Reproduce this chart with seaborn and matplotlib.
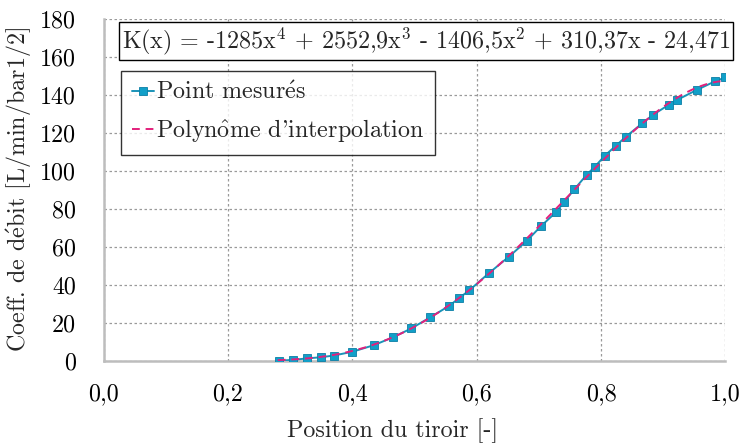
import numpy as np
import pandas as pd
import matplotlib
matplotlib.use("Agg")
import matplotlib.pyplot as plt
import seaborn as sns

# ---- data ----
x_mes = [0.282, 0.304, 0.327, 0.349, 0.370, 0.400, 0.434, 0.466, 0.495, 0.525,
         0.556, 0.571, 0.588, 0.619, 0.652, 0.681, 0.703, 0.728, 0.741, 0.757,
         0.777, 0.790, 0.806, 0.824, 0.840, 0.866, 0.884, 0.909, 0.922, 0.954,
         0.983, 1.000]
k_mes = [0.0, 0.4, 1.2, 1.8, 2.7, 4.7, 8.1, 12.4, 17.0, 22.8,
         28.9, 32.8, 37.0, 45.9, 54.8, 63.2, 70.7, 78.3, 83.7, 90.2,
         97.9, 102.1, 107.9, 113.2, 117.9, 124.9, 129.5, 134.7, 137.2, 142.5,
         147.0, 149.1]
poly_coefs = [-1285.0, 2552.9, -1406.5, 310.37, -24.471]  # x^4 .. x^0
poly_range = [0.28, 1.0]
x_ticks = [0.0, 0.2, 0.4, 0.6, 0.8, 1.0]
x_tick_labels = ["0,0", "0,2", "0,4", "0,6", "0,8", "1,0"]
y_ticks = [0, 20, 40, 60, 80, 100, 120, 140, 160, 180]
equation = r"K(x) = -1285x$^{4}$ + 2552,9x$^{3}$ - 1406,5x$^{2}$ + 310,37x - 24,471"
label_mes = r"Point mesur$\mathrm{\acute{e}}$s"
label_poly = r"Polyn$\mathrm{\hat{o}}$me d'interpolation"
x_label = "Position du tiroir [-]"
y_label = r"Coeff. de d$\mathrm{\acute{e}}$bit [L/min/bar1/2]"

# ---- style ----
sns.set_style("whitegrid")
plt.rcParams["font.family"] = ["cmr10", "DejaVu Serif"]
plt.rcParams["mathtext.fontset"] = "cm"
plt.rcParams["axes.unicode_minus"] = False

FS = 17.3
col_mes = "#1a93b8"
col_mark = "#129fc8"
col_poly = "#e3207c"

fig = plt.figure(figsize=(7.4, 4.46), dpi=100)
ax = fig.add_axes([0.1401, 0.1913, 0.8402, 0.7668])

df_mes = pd.DataFrame({"x": x_mes, "k": k_mes})
xp = np.linspace(poly_range[0], poly_range[1], 300)
df_poly = pd.DataFrame({"x": xp, "k": np.polyval(poly_coefs, xp)})

sns.lineplot(data=df_mes, x="x", y="k", ax=ax, color=col_mes, lw=1.4,
             marker="s", markersize=5.2, markerfacecolor=col_mark,
             markeredgecolor="#0b7fa6", markeredgewidth=0.6,
             label=label_mes, zorder=3)
sns.lineplot(data=df_poly, x="x", y="k", ax=ax, color=col_poly, lw=1.4,
             linestyle=(0, (4, 3)), label=label_poly, zorder=4)

ax.set_xlim(0, 1.0)
ax.set_ylim(0, 180)
ax.set_xticks(x_ticks)
ax.set_xticklabels(x_tick_labels)
ax.set_yticks(y_ticks)
ax.tick_params(axis="both", length=0, labelsize=FS, colors="black")
ax.tick_params(axis="y", pad=20)
ax.tick_params(axis="x", pad=16)

ax.grid(True, color="#9a9a9a", linestyle=(0, (2, 2)), linewidth=0.9)
for s in ["top", "right"]:
    ax.spines[s].set_visible(False)
for s in ["left", "bottom"]:
    ax.spines[s].set_color("#bdbdbd")
    ax.spines[s].set_linewidth(1.8)

ax.set_xlabel(x_label, fontsize=FS)
ax.xaxis.set_label_coords(0.465, -0.168)
ax.set_ylabel(y_label, fontsize=FS, labelpad=5)

leg = ax.legend(loc="upper left", bbox_to_anchor=(0.028, 0.848),
                borderaxespad=0, fontsize=FS, frameon=True, fancybox=False,
                edgecolor="black", handlelength=0.9, handletextpad=0.1,
                labelspacing=0.55, borderpad=0.45)
leg.get_frame().set_linewidth(1.0)

ax.text(0.0294, 0.935, equation, transform=ax.transAxes, fontsize=FS,
        ha="left", va="center", zorder=6,
        bbox=dict(boxstyle="square,pad=0.12", facecolor="white",
                  edgecolor="black", linewidth=1.0))

fig.savefig("out.png", dpi=100)
